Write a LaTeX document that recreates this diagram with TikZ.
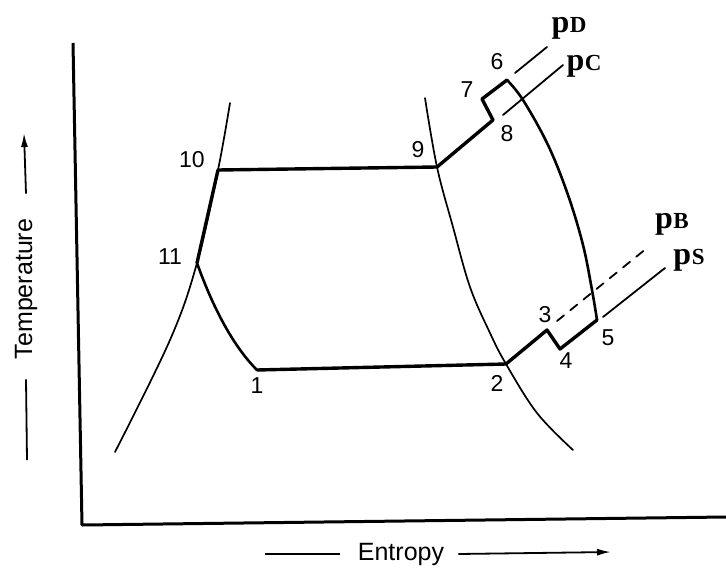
\documentclass[tikz,border=0pt]{standalone}
\usepackage{fontspec}
\setmainfont{Liberation Sans}
\newfontfamily\handfont{Liberation Serif}
\usepackage{tikz}
\usetikzlibrary{arrows.meta,positioning,calc}
\newcommand{\plab}[1]{{\handfont\bfseries\fontsize{32}{34}\selectfont p\kern0.5pt{\fontsize{23}{25}\selectfont #1}}}

\begin{document}
\begin{tikzpicture}[x=1pt, y=-1pt,
  every node/.style={font=\fontsize{23}{26}\selectfont, inner sep=1pt},
  axislabel/.style={font=\fontsize{25}{28}\selectfont},
  cycleline/.style={line width=3.4pt, line join=round, line cap=round},
  domeline/.style={line width=1.7pt, line cap=round},
  isobar/.style={line width=1.8pt, line cap=round}]
  \useasboundingbox (0,0) rectangle (726,571);

  % axes
  \draw[line width=3pt, line join=round] (73,43) -- (82,525) -- (726,517);

  % state points
  \coordinate (s1) at (257,370);
  \coordinate (s2) at (506,364);
  \coordinate (s3) at (547,330);
  \coordinate (s4) at (560,349);
  \coordinate (s5) at (597,320);
  \coordinate (s6) at (507,80);
  \coordinate (s7) at (482,99);
  \coordinate (s8) at (493,120);
  \coordinate (s9) at (437,167);
  \coordinate (s10) at (218,170);
  \coordinate (s11) at (197,263);

  % saturation dome
  \draw[domeline] plot[smooth, tension=0.6] coordinates {(230,103) (s10) (s11) (170,340) (115,452)};
  \draw[domeline] plot[smooth, tension=0.6] coordinates {(425,98) (s9) (453,227) (470,287) (490,333) (s2) (537,413) (573,450)};

  % cycle
  \draw[cycleline] (s1) -- (s2) -- (s3) -- (s4) -- (s5);
  \draw[line width=2.6pt, line cap=round] plot[smooth, tension=0.6] coordinates {(s5) (592,290) (583,245) (568,195) (548,145) (523,100) (s6)};
  \draw[cycleline] (s6) -- (s7) -- (s8) -- (s9) -- (s10) -- (s11);
  \draw[line width=2.6pt, line cap=round] (s11) .. controls (212,305) and (232,345) .. (s1);

  % pressure lines
  \coordinate (pDa) at (515,73);  \coordinate (pDb) at (547,47);
  \coordinate (pCa) at (503,115); \coordinate (pCb) at (563,65);
  \coordinate (pBa) at (557,321); \coordinate (pBb) at (647,248);
  \coordinate (pSa) at (603,317); \coordinate (pSb) at (665,268);
  \draw[isobar] (pDa) -- (pDb);
  \draw[isobar] (pCa) -- (pCb);
  \draw[isobar, dash pattern=on 9pt off 8pt] (pBa) -- (pBb);
  \draw[isobar] (pSa) -- (pSb);
  \node (pD) at (569,28) {\plab{D}};
  \node (pC) at (584,66) {\plab{C}};
  \node (pB) at (672,224) {\plab{B}};
  \node (pS) at (689,260) {\plab{S}};

  % point labels
  \node (l1) at (257,386) {1};
  \node (l2) at (497,383) {2};
  \node (l3) at (545,315) {3};
  \node (l4) at (566,361) {4};
  \node (l5) at (608,338) {5};
  \node (l6) at (497,62) {6};
  \node (l7) at (467,90) {7};
  \node (l8) at (507,134) {8};
  \node (l9) at (418,150) {9};
  \node (l10) at (192,160) {10};
  \node (l11) at (170,257) {11};

  % axis labels
  \node[axislabel, rotate=90] (temp) at (26,289) {Temperature};
  \coordinate (tUp) at (24,133);
  \coordinate (tLow) at (27,460);
  \draw[line width=1.8pt, -{Latex[length=14pt, width=7pt]}] ($(temp.east)+(0,-24)$) -- (tUp);
  \draw[line width=1.8pt] ($(temp.west)+(0,19)$) -- (tLow);

  \node[axislabel] (ent) at (401,554) {Entropy};
  \coordinate (eLeft) at (265,554);
  \coordinate (eRight) at (611,552);
  \draw[line width=1.8pt] ($(ent.west)+(-17,0)$) -- (eLeft);
  \draw[line width=1.8pt, -{Latex[length=14pt, width=7pt]}] ($(ent.east)+(13,0)$) -- (eRight);
\end{tikzpicture}
\end{document}
